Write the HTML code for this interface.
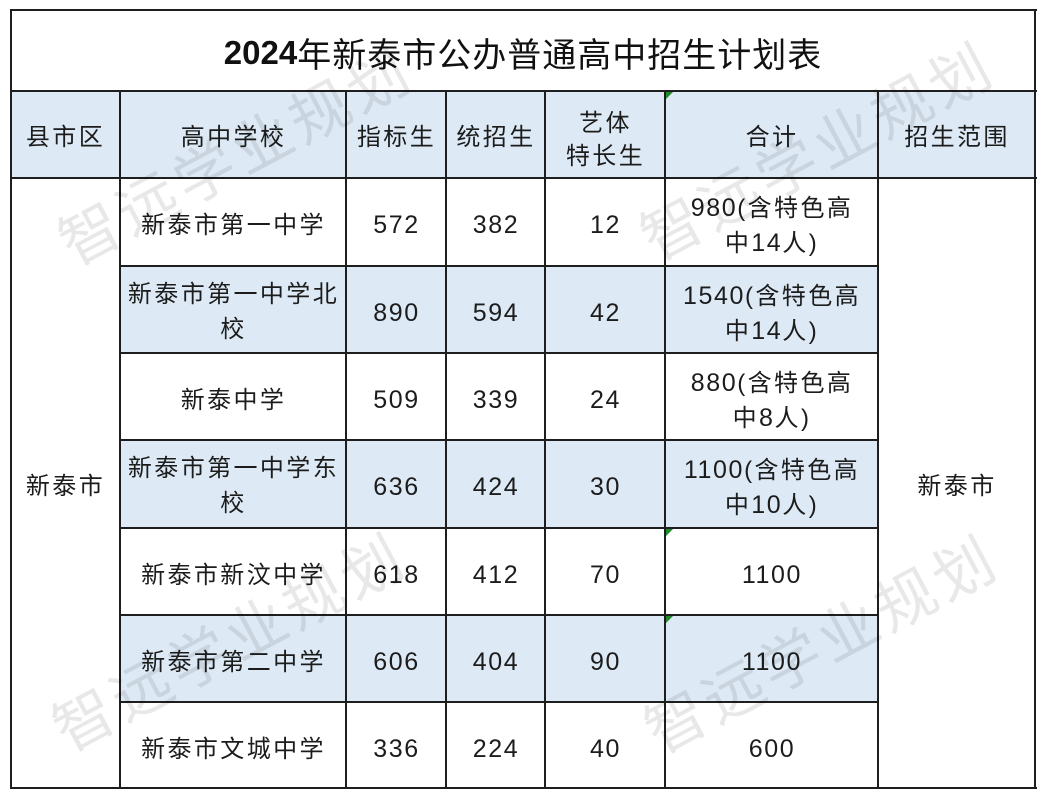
<!DOCTYPE html>
<html>
<head>
<meta charset="utf-8">
<style>
html,body{margin:0;padding:0;background:#fff;}
#c{position:relative;width:1046px;height:800px;overflow:hidden;background:#fff;font-family:"Liberation Sans","Noto Sans CJK SC",sans-serif;color:#1c1c1c;}
.f{position:absolute;background:#DDEAF6;}
.h{position:absolute;background:#1e1e1e;height:2px;}
.v{position:absolute;background:#1e1e1e;width:2px;}
.t{position:absolute;display:flex;align-items:center;justify-content:center;text-align:center;font-size:24px;line-height:35px;letter-spacing:2.4px;white-space:nowrap;box-sizing:border-box;padding-top:6px;}
.n{font-size:25px;letter-spacing:1.6px;}
.title{position:absolute;left:11px;top:12px;width:1024px;height:81px;display:flex;align-items:center;justify-content:center;font-size:34px;letter-spacing:1px;white-space:nowrap;color:#111;}
.title b{font-size:33px;letter-spacing:0;font-weight:bold;}
svg{position:absolute;left:0;top:0;}
</style>
</head>
<body>
<div id="c">
<!-- fills -->
<div class="f" style="left:11px;top:91px;width:1024px;height:87px;"></div>
<div class="f" style="left:120px;top:266px;width:758px;height:87px;"></div>
<div class="f" style="left:120px;top:440px;width:758px;height:88px;"></div>
<div class="f" style="left:120px;top:615px;width:758px;height:87px;"></div>

<!-- horizontal lines -->
<div class="h" style="left:10px;top:9px;width:1027px;"></div>
<div class="h" style="left:10px;top:90px;width:1027px;"></div>
<div class="h" style="left:10px;top:177px;width:1027px;"></div>
<div class="h" style="left:120px;top:265px;width:759px;"></div>
<div class="h" style="left:120px;top:352px;width:759px;"></div>
<div class="h" style="left:120px;top:439px;width:759px;"></div>
<div class="h" style="left:120px;top:527px;width:759px;"></div>
<div class="h" style="left:120px;top:614px;width:759px;"></div>
<div class="h" style="left:120px;top:701px;width:759px;"></div>
<div class="h" style="left:10px;top:787px;width:1027px;"></div>

<!-- vertical lines -->
<div class="v" style="left:10px;top:9px;height:780px;"></div>
<div class="v" style="left:1034px;top:9px;height:780px;"></div>
<div class="v" style="left:119px;top:90px;height:699px;"></div>
<div class="v" style="left:345px;top:90px;height:699px;"></div>
<div class="v" style="left:445px;top:90px;height:699px;"></div>
<div class="v" style="left:544px;top:90px;height:699px;"></div>
<div class="v" style="left:664px;top:90px;height:699px;"></div>
<div class="v" style="left:877px;top:90px;height:699px;"></div>

<!-- title -->
<div class="title"><b>2024</b>年新泰市公办普通高中招生计划表</div>

<!-- header -->
<div class="t" style="left:11px;top:91px;width:109px;height:87px;">县市区</div>
<div class="t" style="left:121px;top:91px;width:225px;height:87px;">高中学校</div>
<div class="t" style="left:347px;top:91px;width:99px;height:87px;">指标生</div>
<div class="t" style="left:447px;top:91px;width:98px;height:87px;">统招生</div>
<div class="t" style="left:546px;top:93px;width:119px;height:87px;line-height:33px;">艺体<br>特长生</div>
<div class="t" style="left:666px;top:91px;width:212px;height:87px;">合计</div>
<div class="t" style="left:879px;top:91px;width:156px;height:87px;">招生范围</div>

<!-- merged -->
<div class="t" style="left:11px;top:179px;width:109px;height:609px;">新泰市</div>
<div class="t" style="left:879px;top:179px;width:156px;height:609px;">新泰市</div>

<!-- row 1 -->
<div class="t" style="left:121px;top:179px;width:225px;height:87px;">新泰市第一中学</div>
<div class="t n" style="left:347px;top:179px;width:99px;height:87px;">572</div>
<div class="t n" style="left:447px;top:179px;width:98px;height:87px;">382</div>
<div class="t n" style="left:546px;top:179px;width:119px;height:87px;">12</div>
<div class="t" style="left:666px;top:179px;width:212px;height:87px;"><span><span class="n">980</span>(含特色高<br>中<span class="n">14</span>人)</span></div>

<!-- row 2 -->
<div class="t" style="left:121px;top:265px;width:225px;height:87px;">新泰市第一中学北<br>校</div>
<div class="t n" style="left:347px;top:267px;width:99px;height:87px;">890</div>
<div class="t n" style="left:447px;top:267px;width:98px;height:87px;">594</div>
<div class="t n" style="left:546px;top:267px;width:119px;height:87px;">42</div>
<div class="t" style="left:666px;top:267px;width:212px;height:87px;"><span><span class="n">1540</span>(含特色高<br>中<span class="n">14</span>人)</span></div>

<!-- row 3 -->
<div class="t" style="left:121px;top:354px;width:225px;height:87px;">新泰中学</div>
<div class="t n" style="left:347px;top:354px;width:99px;height:87px;">509</div>
<div class="t n" style="left:447px;top:354px;width:98px;height:87px;">339</div>
<div class="t n" style="left:546px;top:354px;width:119px;height:87px;">24</div>
<div class="t" style="left:666px;top:354px;width:212px;height:87px;"><span><span class="n">880</span>(含特色高<br>中<span class="n">8</span>人)</span></div>

<!-- row 4 -->
<div class="t" style="left:121px;top:439px;width:225px;height:87px;">新泰市第一中学东<br>校</div>
<div class="t n" style="left:347px;top:441px;width:99px;height:87px;">636</div>
<div class="t n" style="left:447px;top:441px;width:98px;height:87px;">424</div>
<div class="t n" style="left:546px;top:441px;width:119px;height:87px;">30</div>
<div class="t" style="left:666px;top:441px;width:212px;height:87px;"><span><span class="n">1100</span>(含特色高<br>中<span class="n">10</span>人)</span></div>

<!-- row 5 -->
<div class="t" style="left:121px;top:529px;width:225px;height:87px;">新泰市新汶中学</div>
<div class="t n" style="left:347px;top:529px;width:99px;height:87px;">618</div>
<div class="t n" style="left:447px;top:529px;width:98px;height:87px;">412</div>
<div class="t n" style="left:546px;top:529px;width:119px;height:87px;">70</div>
<div class="t n" style="left:666px;top:529px;width:212px;height:87px;">1100</div>

<!-- row 6 -->
<div class="t" style="left:121px;top:616px;width:225px;height:87px;">新泰市第二中学</div>
<div class="t n" style="left:347px;top:616px;width:99px;height:87px;">606</div>
<div class="t n" style="left:447px;top:616px;width:98px;height:87px;">404</div>
<div class="t n" style="left:546px;top:616px;width:119px;height:87px;">90</div>
<div class="t n" style="left:666px;top:616px;width:212px;height:87px;">1100</div>

<!-- row 7 -->
<div class="t" style="left:121px;top:703px;width:225px;height:86px;">新泰市文城中学</div>
<div class="t n" style="left:347px;top:703px;width:99px;height:86px;">336</div>
<div class="t n" style="left:447px;top:703px;width:98px;height:86px;">224</div>
<div class="t n" style="left:546px;top:703px;width:119px;height:86px;">40</div>
<div class="t n" style="left:666px;top:703px;width:212px;height:86px;">600</div>

<svg width="1046" height="800" viewBox="0 0 1046 800">
  <g fill="#1f8a2a">
    <polygon points="666,92 673,92 666,99"/>
    <polygon points="666,529 673,529 666,536"/>
    <polygon points="666,616 673,616 666,623"/>
  </g>
  <g font-family="Liberation Sans, Noto Sans CJK SC, sans-serif" font-size="60" fill="#000" fill-opacity="0.09" text-anchor="middle" letter-spacing="5">
    <text x="236" y="178" transform="rotate(-28 236 157)">智远学业规划</text>
    <text x="818" y="173" transform="rotate(-28 818 152)">智远学业规划</text>
    <text x="230" y="664" transform="rotate(-28 230 643)">智远学业规划</text>
    <text x="822" y="666" transform="rotate(-28 822 645)">智远学业规划</text>
  </g>
</svg>
</div>
</body>
</html>
